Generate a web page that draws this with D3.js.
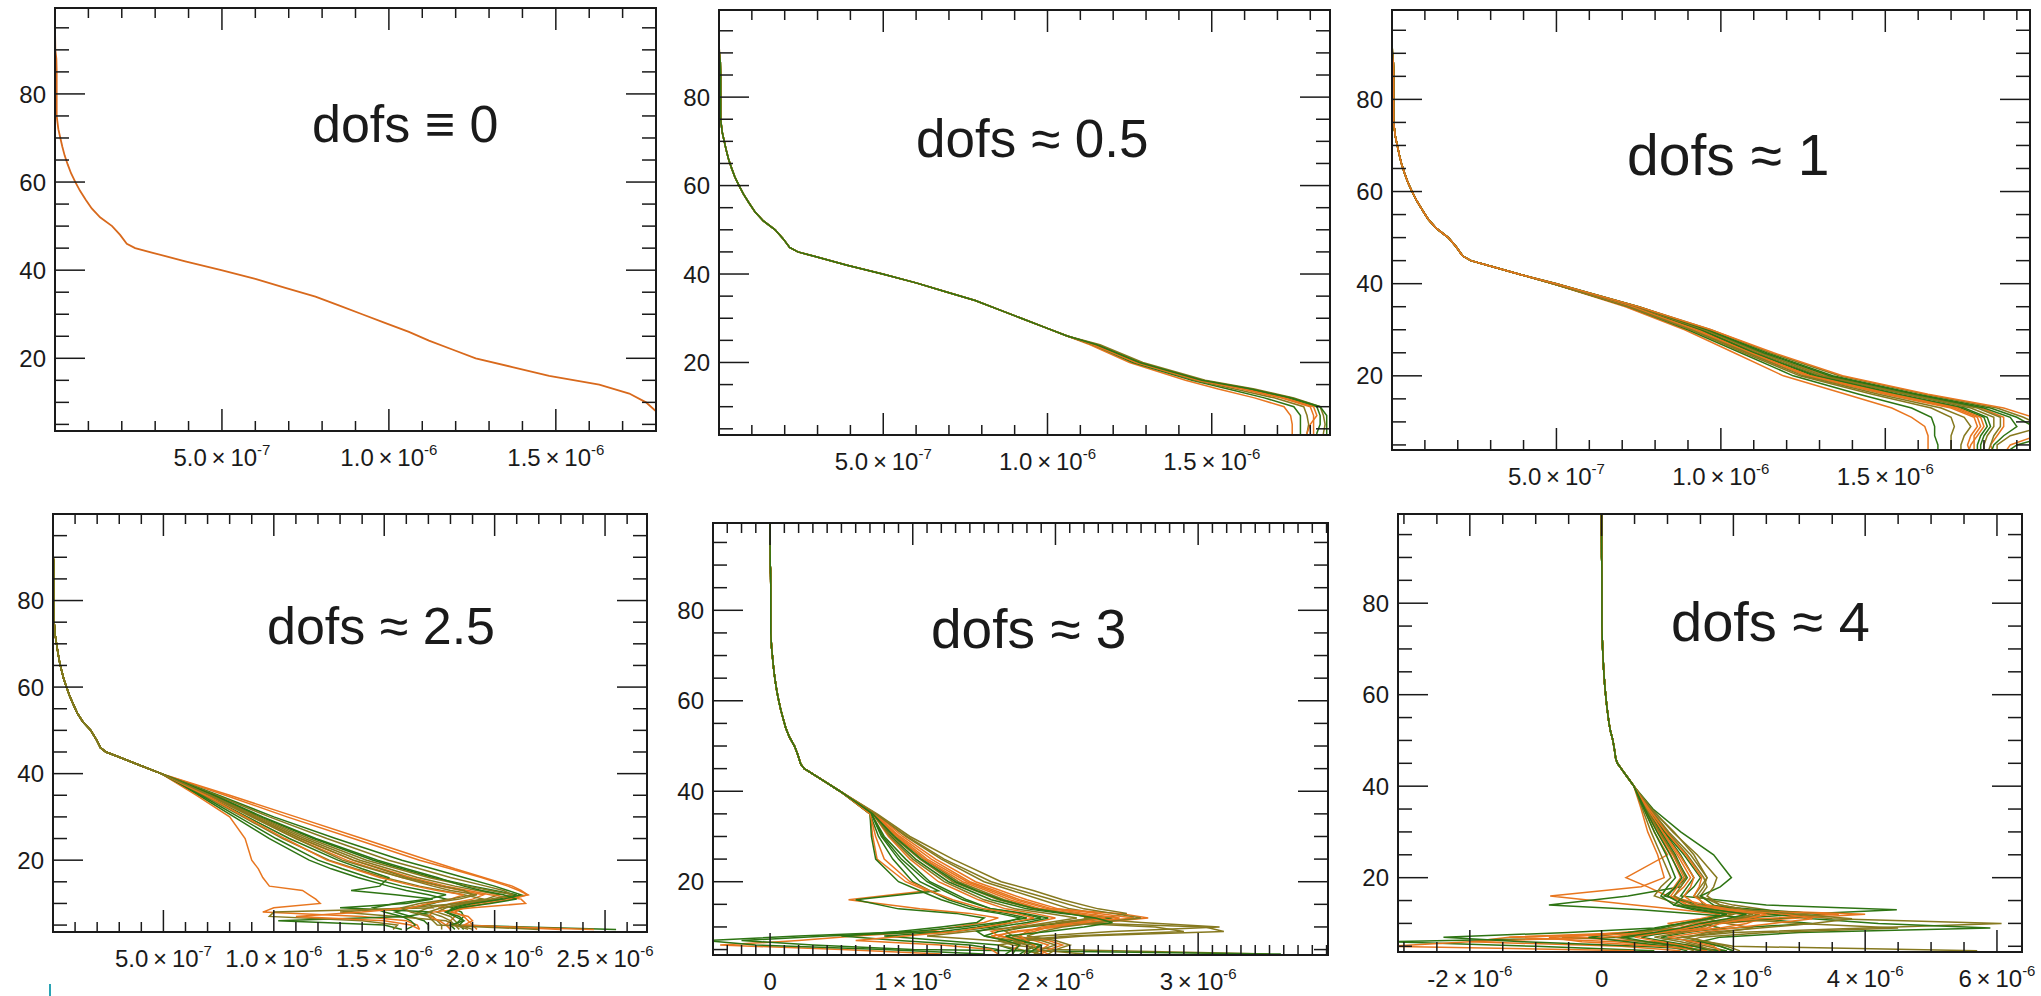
<!DOCTYPE html>
<html>
<head>
<meta charset="utf-8">
<script src="https://cdn.jsdelivr.net/npm/d3@7"></script>
<style>
  body { margin: 0; background: #fff; }
  svg { display: block; }
  text { font-family: "Liberation Sans", Arial, sans-serif; fill: #1a1a1a; }
</style>
</head>
<body>
<div id="chart"></div>
<script>
// altitude (km) / vmr (x 1e-6) of the a priori profile, shared by all panels
var priorAlt = [99.5, 95, 90, 88, 85, 80, 75, 72, 70, 68, 66, 64, 62, 60, 58, 56, 54, 52, 50, 48,
  46, 45, 44, 42, 40, 38, 36, 34, 32, 30, 28, 26, 24, 22, 20, 18, 16, 14, 12, 10, 8, 6, 4, 3];
var priorVmr = [0, 0, 0.001, 0.004, 0.005, 0.005, 0.005, 0.010, 0.016, 0.022, 0.029, 0.038, 0.048, 0.061, 0.075, 0.092, 0.110, 0.135, 0.171, 0.195,
  0.215, 0.240, 0.290, 0.390, 0.498, 0.60, 0.69, 0.78, 0.85, 0.92, 0.99, 1.06, 1.12, 1.19, 1.26, 1.37, 1.48, 1.63, 1.72, 1.77, 1.80, 1.84, 1.88, 1.89];

// retrieved profiles (x 1e-6), one row per ensemble member, given at the panel's levels
var p2Levels = [24, 20, 16, 14, 12, 10, 8, 6, 4, 3];
var p2Members = [
  [1.13, 1.25, 1.42, 1.52, 1.63, 1.72, 1.74, 1.745, 1.745, 1.745],
  [1.14, 1.26, 1.44, 1.55, 1.66, 1.75, 1.77, 1.77, 1.77, 1.77],
  [1.14, 1.27, 1.45, 1.57, 1.69, 1.78, 1.79, 1.795, 1.79, 1.79],
  [1.15, 1.28, 1.46, 1.59, 1.71, 1.80, 1.81, 1.81, 1.81, 1.81],
  [1.15, 1.28, 1.47, 1.61, 1.73, 1.82, 1.83, 1.83, 1.82, 1.82],
  [1.16, 1.29, 1.48, 1.63, 1.75, 1.83, 1.84, 1.845, 1.84, 1.84],
  [1.14, 1.27, 1.46, 1.60, 1.72, 1.81, 1.82, 1.80, 1.79, 1.79],
  [1.15, 1.28, 1.47, 1.62, 1.74, 1.83, 1.85, 1.85, 1.85, 1.85]
];

var p3Levels = [40, 35, 30, 25, 20, 16, 13, 11, 9, 7, 5, 3];
var p3Members = [
  [0.49, 0.71, 0.89, 1.04, 1.19, 1.38, 1.52, 1.58, 1.62, 1.63, 1.63, 1.63],
  [0.49, 0.72, 0.90, 1.06, 1.22, 1.42, 1.58, 1.64, 1.65, 1.65, 1.66, 1.66],
  [0.49, 0.72, 0.91, 1.07, 1.24, 1.46, 1.64, 1.70, 1.71, 1.70, 1.70, 1.70],
  [0.49, 0.73, 0.92, 1.08, 1.26, 1.50, 1.70, 1.77, 1.78, 1.76, 1.75, 1.76],
  [0.49, 0.73, 0.93, 1.10, 1.28, 1.53, 1.73, 1.80, 1.81, 1.79, 1.78, 1.78],
  [0.49, 0.74, 0.94, 1.11, 1.30, 1.56, 1.76, 1.83, 1.83, 1.81, 1.80, 1.80],
  [0.50, 0.74, 0.95, 1.12, 1.32, 1.58, 1.79, 1.86, 1.86, 1.84, 1.82, 1.83],
  [0.50, 0.75, 0.96, 1.14, 1.34, 1.60, 1.82, 1.90, 1.95, 2.00, 1.90, 1.86],
  [0.50, 0.75, 0.97, 1.15, 1.36, 1.62, 1.84, 1.92, 1.98, 1.88, 1.84, 1.84],
  [0.49, 0.73, 0.93, 1.09, 1.27, 1.51, 1.71, 1.78, 1.79, 1.77, 1.77, 1.77],
  [0.49, 0.74, 0.94, 1.10, 1.29, 1.54, 1.74, 1.81, 1.82, 1.80, 1.79, 1.79],
  [0.50, 0.74, 0.95, 1.12, 1.31, 1.57, 1.78, 1.85, 1.85, 1.83, 1.82, 1.81],
  [0.49, 0.73, 0.92, 1.09, 1.27, 1.52, 1.72, 1.79, 1.80, 1.78, 1.76, 1.75],
  [0.50, 0.75, 0.96, 1.13, 1.33, 1.59, 1.80, 1.88, 1.90, 1.86, 1.83, 1.82],
  [0.49, 0.72, 0.91, 1.08, 1.25, 1.48, 1.67, 1.74, 1.76, 1.74, 1.73, 1.73],
  [0.50, 0.75, 0.97, 1.16, 1.37, 1.63, 1.86, 1.95, 2.05, 1.96, 1.88, 1.86]
];

var lowLevels = [40, 35, 30, 25, 20, 18, 16, 14, 13, 12, 11, 10, 9, 8, 7, 6, 5, 4];
var p4Members = [
  [0.49, 0.70, 0.90, 1.10, 1.33, 1.45, 1.58, 1.75, 1.85, 1.95, 1.90, 1.80, 1.75, 1.78, 1.82, 1.80, 1.78, 1.80],
  [0.49, 0.72, 0.94, 1.18, 1.45, 1.58, 1.72, 1.90, 2.00, 2.10, 2.02, 1.88, 1.80, 1.85, 1.86, 1.84, 1.82, 2.55],
  [0.49, 0.68, 0.86, 1.04, 1.25, 1.37, 1.50, 1.66, 1.76, 1.86, 1.95, 1.82, 1.70, 1.65, 1.72, 1.74, 1.76, 1.76],
  [0.49, 0.80, 1.10, 1.40, 1.70, 1.82, 1.95, 2.08, 2.12, 2.15, 2.05, 1.92, 1.85, 1.80, 1.88, 1.90, 1.86, 2.30],
  [0.49, 0.66, 0.82, 0.98, 1.16, 1.26, 1.38, 1.52, 1.60, 1.70, 1.78, 1.72, 1.62, 1.55, 1.62, 1.68, 1.70, 1.70],
  [0.49, 0.71, 0.92, 1.14, 1.39, 1.52, 1.65, 1.82, 1.92, 2.02, 1.96, 1.84, 1.60, 1.30, 1.55, 1.78, 1.82, 1.84],
  [0.49, 0.65, 0.80, 0.87, 0.90, 0.93, 0.95, 0.98, 1.13, 1.16, 1.19, 1.21, 1.00, 0.95, 1.40, 1.60, 1.65, 1.66],
  [0.49, 0.69, 0.88, 1.07, 1.29, 1.40, 1.52, 1.48, 1.35, 1.55, 1.72, 1.60, 1.30, 1.72, 1.60, 1.02, 1.50, 1.58],
  [0.49, 0.72, 0.93, 1.16, 1.42, 1.56, 1.70, 1.88, 1.98, 2.08, 2.00, 1.86, 1.78, 1.74, 1.80, 1.82, 1.84, 1.90],
  [0.49, 0.70, 0.91, 1.12, 1.36, 1.49, 1.62, 1.78, 1.88, 1.98, 2.12, 2.14, 1.90, 1.72, 1.70, 1.75, 1.78, 2.45],
  [0.49, 0.67, 0.84, 1.01, 1.20, 1.31, 1.43, 1.58, 1.68, 1.78, 1.70, 1.55, 1.45, 1.50, 1.58, 1.62, 1.64, 1.60],
  [0.49, 0.71, 0.90, 1.10, 1.31, 1.44, 1.58, 1.72, 1.80, 1.92, 1.84, 1.70, 1.72, 1.00, 0.98, 1.40, 1.56, 1.54],
  [0.49, 0.78, 1.06, 1.36, 1.66, 1.80, 1.94, 2.06, 2.11, 2.15, 2.08, 1.96, 1.86, 1.82, 1.86, 1.88, 1.90, 1.92],
  [0.49, 0.75, 1.00, 1.28, 1.58, 1.72, 1.86, 2.00, 2.06, 2.12, 2.04, 1.90, 1.82, 1.78, 1.84, 1.86, 1.84, 1.86],
  [0.49, 0.74, 0.98, 1.24, 1.52, 1.66, 1.80, 1.96, 2.04, 2.08, 1.98, 1.86, 1.76, 1.70, 1.76, 1.80, 1.82, 1.88],
  [0.49, 0.69, 0.87, 1.05, 1.24, 1.36, 1.48, 1.64, 1.74, 1.86, 1.80, 1.70, 1.62, 1.40, 1.10, 1.50, 1.62, 1.66],
  [0.49, 0.73, 0.95, 1.19, 1.47, 1.60, 1.74, 1.86, 1.94, 2.04, 2.10, 1.98, 1.84, 1.78, 1.82, 1.86, 1.80, 1.82],
  [0.49, 0.71, 0.91, 1.12, 1.36, 1.48, 1.60, 1.76, 1.86, 1.90, 1.80, 1.66, 1.58, 1.62, 1.70, 1.72, 1.74, 2.20]
];
var p5Members = [
  [0.49, 0.70, 0.72, 0.75, 0.95, 1.10, 0.55, 1.05, 1.40, 1.60, 1.50, 1.30, 1.10, 0.60, 0.20, -0.35, 0.50, 1.20],
  [0.49, 0.72, 0.85, 1.02, 1.25, 1.40, 1.55, 1.80, 2.05, 2.40, 2.10, 1.80, 1.60, 1.50, 1.70, 1.90, 1.80, 1.75],
  [0.49, 0.74, 0.95, 1.20, 1.50, 1.70, 1.90, 2.10, 2.30, 2.20, 2.60, 3.15, 2.40, 1.90, 1.60, 1.70, 2.00, 3.50],
  [0.49, 0.73, 0.90, 1.10, 1.38, 1.55, 1.72, 1.95, 2.45, 2.65, 2.30, 2.00, 1.70, 1.60, 1.85, 1.95, 1.90, 1.85],
  [0.49, 0.71, 0.80, 0.95, 1.12, 1.25, 1.38, 1.55, 1.75, 1.90, 1.70, 1.55, 1.30, 0.80, 1.20, 1.60, 1.70, 1.65],
  [0.49, 0.75, 0.98, 1.28, 1.62, 1.85, 2.05, 2.30, 2.50, 2.35, 2.10, 3.05, 3.18, 2.20, 1.80, 1.60, 1.75, 1.90],
  [0.49, 0.72, 0.83, 0.98, 1.18, 1.32, 1.46, 1.65, 1.85, 2.00, 1.85, 1.70, 1.55, 1.60, 1.75, 1.80, 1.80, 1.80],
  [0.49, 0.70, 0.71, 0.74, 0.90, 1.05, 1.20, 1.40, 1.60, 1.75, 1.65, 1.45, 1.20, 0.40, -0.20, 0.30, 1.00, 3.58],
  [0.49, 0.73, 0.88, 1.08, 1.32, 1.48, 1.64, 1.88, 2.10, 2.25, 2.05, 1.75, 1.40, 1.10, 1.55, 1.85, 1.80, 1.78],
  [0.49, 0.74, 0.93, 1.16, 1.44, 1.62, 1.80, 2.02, 2.30, 2.55, 2.20, 1.95, 1.85, 1.70, 1.95, 2.05, 1.95, 1.90],
  [0.49, 0.71, 0.78, 0.90, 1.05, 1.18, 0.60, 0.90, 1.30, 1.50, 1.45, 1.20, 0.90, 0.50, 0.90, 1.40, 1.60, 1.60],
  [0.49, 0.72, 0.86, 1.05, 1.28, 1.44, 1.60, 1.85, 2.15, 2.30, 2.00, 2.70, 2.90, 2.10, 1.70, 1.80, 1.85, 2.20],
  [0.49, 0.73, 0.91, 1.13, 1.40, 1.58, 1.75, 1.98, 2.20, 2.45, 2.25, 2.00, 1.75, 1.55, 1.65, 1.75, 1.70, 1.70],
  [0.49, 0.70, 0.76, 0.86, 1.00, 1.12, 1.25, 1.45, 1.65, 1.80, 1.60, 1.35, 1.00, 0.20, -0.45, -0.10, 0.80, 1.50],
  [0.49, 0.72, 0.84, 1.00, 1.22, 1.36, 1.50, 1.72, 1.95, 2.15, 1.95, 1.75, 1.65, 1.70, 1.90, 2.00, 1.90, 1.85],
  [0.49, 0.73, 0.89, 1.08, 1.35, 1.52, 1.68, 1.90, 2.12, 2.35, 2.15, 1.90, 1.80, 1.75, 1.80, 1.85, 1.88, 1.95],
  [0.49, 0.71, 0.79, 0.92, 1.10, 1.22, 1.35, 1.55, 1.78, 1.95, 1.80, 1.60, 1.45, 1.50, 1.65, 1.75, 1.72, 1.70],
  [0.49, 0.74, 0.96, 1.22, 1.55, 1.76, 1.98, 2.20, 2.40, 2.60, 2.30, 2.05, 1.90, 1.80, 2.00, 2.10, 2.00, 1.95],
  [0.49, 0.70, 0.74, 0.80, 0.98, 1.12, 1.28, 1.50, 1.72, 1.85, 1.70, 1.50, 1.30, 0.95, 0.60, 1.20, 1.55, 1.60],
  [0.49, 0.72, 0.87, 1.06, 1.30, 1.45, 1.62, 1.86, 2.08, 2.28, 2.40, 2.20, 1.95, 1.65, 1.75, 1.90, 1.85, 1.80]
];
var p6Members = [
  [0.49, 0.60, 0.70, 0.85, 0.95, 0.60, -0.78, 0.50, 1.20, 1.80, 1.50, 1.00, 1.40, 0.50, -1.40, -2.00, 0.30, 1.20],
  [0.49, 0.70, 0.95, 1.20, 1.40, 1.30, 1.20, 2.50, 4.48, 3.00, 2.00, 1.50, 1.80, 1.30, 0.90, 1.50, 1.80, 2.00],
  [0.49, 0.75, 1.10, 1.40, 1.60, 1.50, 1.40, 2.00, 2.50, 2.80, 3.50, 6.07, 4.00, 2.00, 1.20, 1.60, 2.00, 5.70],
  [0.49, 0.65, 0.80, 1.00, 0.37, 0.70, 1.00, 1.60, 2.20, 2.60, 2.00, 1.40, 1.20, 0.30, -0.60, 0.80, 1.50, 1.60],
  [0.49, 0.68, 0.88, 1.10, 1.30, 1.20, 0.40, -0.80, 0.60, 1.50, 2.40, 3.20, 2.00, 1.00, 0.40, -3.20, -1.00, 0.80],
  [0.49, 0.72, 1.00, 1.30, 1.55, 1.60, 1.50, 1.80, 2.20, 2.00, 1.60, 1.90, 2.30, 1.80, 1.20, 0.80, 1.40, 1.80],
  [0.49, 0.66, 0.85, 1.05, 1.20, 1.10, 1.00, 1.40, 2.00, 4.00, 2.80, 1.80, 1.60, 1.20, -1.40, 0.20, 1.00, 1.60],
  [0.49, 0.78, 1.20, 1.70, 1.97, 1.80, 1.50, 1.70, 2.00, 2.60, 3.20, 4.20, 5.90, 3.00, 1.80, 1.50, 1.80, 2.00],
  [0.49, 0.62, 0.75, 0.90, 1.05, 0.90, 0.80, 1.20, 1.60, 2.00, 1.70, 1.30, 1.00, 0.60, 0.20, 0.60, 1.20, 1.40],
  [0.49, 0.70, 0.92, 1.15, 1.35, 1.25, 1.10, 1.30, 1.70, 2.10, 2.40, 2.20, 1.80, 1.20, 0.00, -2.00, -3.20, 0.50],
  [0.49, 0.69, 0.90, 1.12, 1.28, 1.15, 0.95, 1.50, 2.40, 3.40, 2.60, 1.70, 1.40, 1.00, 0.60, 1.00, 1.40, 1.70],
  [0.49, 0.74, 1.02, 1.35, 1.60, 1.55, 1.45, 1.55, 1.80, 2.30, 2.00, 3.00, 4.50, 2.50, 1.50, 1.30, 1.60, 1.90],
  [0.49, 0.67, 0.86, 1.08, 1.25, 1.15, 1.05, 1.30, 1.90, 3.60, 2.40, 1.60, 1.30, 0.90, 0.50, 0.90, 1.30, 1.50],
  [0.49, 0.71, 0.96, 1.25, 1.50, 1.40, 1.25, 1.10, 1.40, 1.90, 1.60, 1.20, 0.80, -0.50, -2.40, -1.20, 0.60, 1.90],
  [0.49, 0.68, 0.88, 1.10, 1.28, 1.20, 1.10, 1.40, 1.80, 2.40, 2.10, 1.70, 1.50, 1.20, 0.80, 1.20, 1.50, 1.70],
  [0.49, 0.72, 0.98, 1.28, 1.52, 1.48, 1.40, 1.60, 2.00, 2.80, 3.20, 2.60, 2.00, 1.50, 1.00, 1.40, 1.70, 1.80],
  [0.49, 0.64, 0.80, 0.98, 1.12, 1.00, 0.90, 1.10, 1.50, 1.90, 1.60, 1.20, 0.90, 0.40, -0.20, 0.40, 1.00, 1.30],
  [0.49, 0.76, 1.08, 1.45, 1.75, 1.70, 1.60, 1.80, 2.20, 3.00, 3.80, 3.20, 2.40, 1.60, 1.30, 1.60, 1.90, 2.10],
  [0.49, 0.70, 0.93, 1.18, 1.40, 1.35, 1.25, 1.45, 1.85, 2.50, 2.20, 1.80, 1.60, 0.90, -0.80, -0.30, 0.90, 1.60],
  [0.49, 0.66, 0.84, 1.04, 1.22, 1.12, 1.00, 1.25, 1.70, 2.20, 1.90, 1.50, 1.20, 0.80, 0.30, 0.70, 1.20, 1.50]
];

// tick values and labels
var yTicks = [20, 40, 60, 80];
var p1XTicks = [0.5, 1.0, 1.5];
var p1XLabels = ["5.0\u2009×\u200910^-7", "1.0\u2009×\u200910^-6", "1.5\u2009×\u200910^-6"];
var p4XTicks = [0.5, 1.0, 1.5, 2.0, 2.5];
var p4XLabels = ["5.0\u2009×\u200910^-7", "1.0\u2009×\u200910^-6", "1.5\u2009×\u200910^-6", "2.0\u2009×\u200910^-6", "2.5\u2009×\u200910^-6"];
var p5XTicks = [0, 1, 2, 3];
var p5XLabels = ["0", "1\u2009×\u200910^-6", "2\u2009×\u200910^-6", "3\u2009×\u200910^-6"];
var p6XTicks = [-2, 0, 2, 4, 6];
var p6XLabels = ["-2\u2009×\u200910^-6", "0", "2\u2009×\u200910^-6", "4\u2009×\u200910^-6", "6\u2009×\u200910^-6"];
var titles = ["dofs \u2261 0", "dofs \u2248 0.5", "dofs \u2248 1", "dofs \u2248 2.5", "dofs \u2248 3", "dofs \u2248 4"];

var W = 2041, H = 996;
var colors = ["#e8761f", "#2d7413", "#86791f"];

// panel layout: box = [left, top, right, bottom]
var panels = [
  { box: [55, 8, 656, 431], xDom: [0, 1.8], yDom: [3.5, 99.5], xt: p1XTicks, xl: p1XLabels, minor: 0.1, members: null, tpos: [312, 142], tsize: 52 },
  { box: [719, 10, 1330, 435], xDom: [0, 1.86], yDom: [3.6, 99.7], xt: p1XTicks, xl: p1XLabels, minor: 0.1, levels: p2Levels, members: p2Members, tpos: [916, 157], tsize: 53 },
  { box: [1392, 10, 2030, 450], xDom: [0, 1.94], yDom: [3.9, 99.4], xt: p1XTicks, xl: p1XLabels, minor: 0.1, levels: p3Levels, members: p3Members, tpos: [1627, 175], tsize: 57 },
  { box: [53, 514, 647, 932], xDom: [0, 2.69], yDom: [3.4, 100], xt: p4XTicks, xl: p4XLabels, minor: 0.1, levels: lowLevels, members: p4Members, tpos: [267, 644], tsize: 52 },
  { box: [713, 523, 1328, 955], xDom: [-0.4, 3.91], yDom: [3.8, 99.3], xt: p5XTicks, xl: p5XLabels, minor: 0.1, levels: lowLevels, members: p5Members, tpos: [931, 648], tsize: 55 },
  { box: [1398, 514, 2022, 952], xDom: [-3.09, 6.38], yDom: [3.75, 99.5], xt: p6XTicks, xl: p6XLabels, minor: 0.5, levels: lowLevels, members: p6Members, tpos: [1671, 641], tsize: 56 }
];

var svg = d3.select("#chart").append("svg").attr("width", W).attr("height", H);

function profile(levels, vals) {
  var pts = [];
  priorAlt.forEach(function (a, i) { if (a > levels[0]) pts.push([a, priorVmr[i]]); });
  levels.forEach(function (a, i) { pts.push([a, vals[i]]); });
  return pts;
}

panels.forEach(function (p, k) {
  var x0 = p.box[0], y0 = p.box[1], x1 = p.box[2], y1 = p.box[3];
  var x = d3.scaleLinear().domain(p.xDom).range([x0, x1]);
  var y = d3.scaleLinear().domain(p.yDom).range([y1, y0]);
  var g = svg.append("g");

  svg.append("clipPath").attr("id", "clip" + k)
    .append("rect").attr("x", x0).attr("y", y0).attr("width", x1 - x0).attr("height", y1 - y0);

  var line = d3.line().x(function (d) { return x(d[1]); }).y(function (d) { return y(d[0]); });
  var lines = g.append("g").attr("clip-path", "url(#clip" + k + ")").attr("fill", "none");

  if (!p.members) {
    lines.append("path").datum(d3.zip(priorAlt, priorVmr))
      .attr("d", line).attr("stroke", "#d8691c").attr("stroke-width", 1.8);
  } else {
    lines.selectAll("path").data(p.members).join("path")
      .attr("d", function (m) { return line(profile(p.levels, m)); })
      .attr("stroke", function (m, i) { return colors[i % 3]; })
      .attr("stroke-width", 1.5);
  }

  // frame
  g.append("rect").attr("x", x0).attr("y", y0).attr("width", x1 - x0).attr("height", y1 - y0)
    .attr("fill", "none").attr("stroke", "#1a1a1a").attr("stroke-width", 2);

  var ticks = g.append("g").attr("stroke", "#1a1a1a").attr("stroke-width", 1.5);
  // x ticks, bottom and top, inward
  var minors = d3.range(Math.ceil(p.xDom[0] / p.minor - 1e-9), Math.floor(p.xDom[1] / p.minor + 1e-9) + 1)
    .map(function (i) { return +(i * p.minor).toFixed(3); });
  minors.forEach(function (v) {
    var major = p.xt.some(function (t) { return Math.abs(t - v) < 1e-6; });
    var len = major ? 22 : 10;
    var px = x(v);
    if (px <= x0 + 1 || px >= x1 - 1) return;
    ticks.append("line").attr("x1", px).attr("x2", px).attr("y1", y1).attr("y2", y1 - len);
    ticks.append("line").attr("x1", px).attr("x2", px).attr("y1", y0).attr("y2", y0 + len);
  });
  // y ticks, left and right, inward
  d3.range(5, 100, 5).forEach(function (v) {
    if (v <= p.yDom[0] || v >= p.yDom[1]) return;
    var major = yTicks.indexOf(v) >= 0;
    var len = major ? 30 : 14;
    var py = y(v);
    ticks.append("line").attr("x1", x0).attr("x2", x0 + len).attr("y1", py).attr("y2", py);
    ticks.append("line").attr("x1", x1).attr("x2", x1 - len).attr("y1", py).attr("y2", py);
  });

  // y labels
  yTicks.forEach(function (v) {
    g.append("text").attr("x", x0 - 9).attr("y", y(v)).attr("dy", "0.36em")
      .attr("text-anchor", "end").attr("font-size", 24).text(v);
  });
  // x labels with superscript exponent
  p.xt.forEach(function (v, i) {
    var parts = p.xl[i].split("^");
    var t = g.append("text").attr("x", x(v)).attr("y", y1 + 35)
      .attr("text-anchor", "middle").attr("font-size", 24);
    t.append("tspan").text(parts[0]);
    if (parts[1]) t.append("tspan").attr("dy", -11).attr("font-size", 15).text(parts[1]);
  });

  g.append("text").attr("x", p.tpos[0]).attr("y", p.tpos[1])
    .attr("font-size", p.tsize).attr("fill", "#000").text(titles[k]);
});

// small slide mark in the lower left corner
svg.append("line").attr("x1", 50).attr("x2", 50).attr("y1", 984).attr("y2", 996)
  .attr("stroke", "#2aa3b4").attr("stroke-width", 2);
</script>
</body>
</html>
